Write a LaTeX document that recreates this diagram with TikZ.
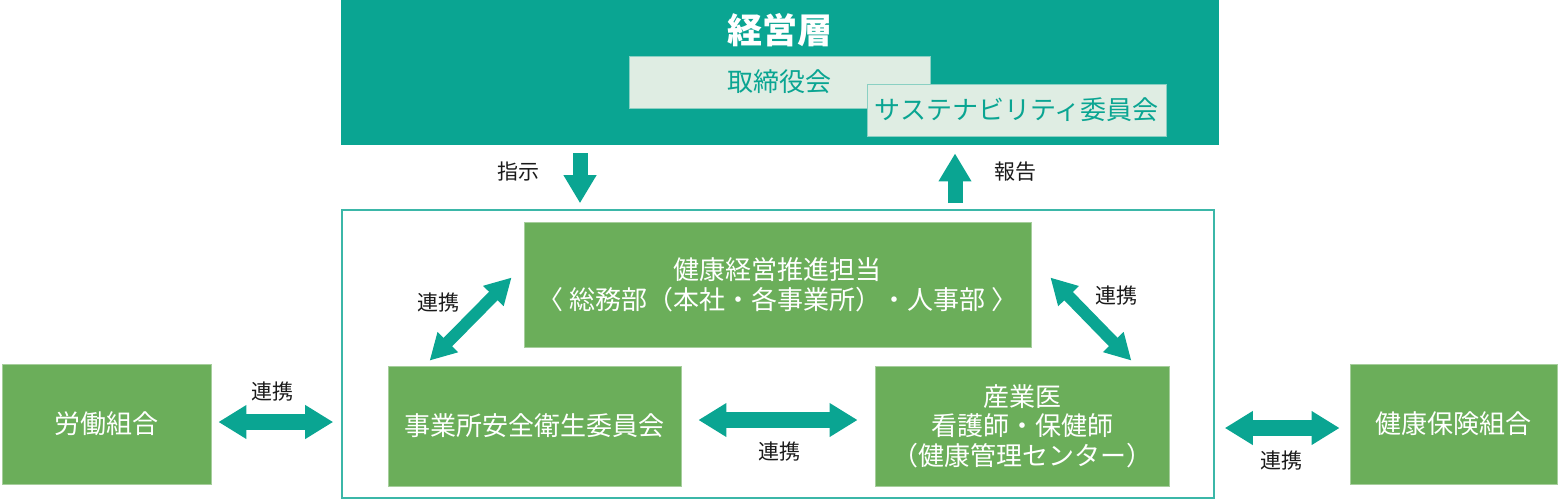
\documentclass[tikz,border=0pt]{standalone}
\usepackage{fontspec}
\setmainfont{Noto Sans CJK JP}
\usepackage{xcolor}
\usepackage{tikz}
\usetikzlibrary{arrows.meta}
\definecolor{hpTeal}{HTML}{0AA592}
\definecolor{hpGreen}{HTML}{6BAE5A}
\definecolor{hpPale}{HTML}{DFEDE3}
\definecolor{ink}{HTML}{1A1A1A}

\begin{document}
\begin{tikzpicture}[x=0.5pt,y=-0.5pt,
  box/.style={fill=hpGreen,draw=hpGreen!60!white,text=white,align=center,minimum height=60pt,font=\fontsize{13}{14.8}\selectfont},
  pale/.style={fill=hpPale,draw=hpPale!60!hpTeal,text=hpTeal,minimum height=26pt,font=\fontsize{13}{15}\selectfont},
  tag/.style={text=ink,font=\fontsize{10.5}{12}\selectfont},
  fat/.style={hpTeal,line width=8pt,{Triangle[width=16pt,length=14pt]}-{Triangle[width=16pt,length=14pt]}},
  slant/.style={hpTeal,line width=6pt,{Triangle[width=13.5pt,length=13pt]}-{Triangle[width=13.5pt,length=13pt]}},
  vert/.style={hpTeal,line width=7.5pt,-{Triangle[width=15.5pt,length=14pt]}}]
\useasboundingbox (0,0) rectangle (1560,500);
% top : management
\node[fill=hpTeal,minimum width=439pt,minimum height=72.5pt,inner sep=0pt] (top) at (780,72.5) {};
\node[text=white,font=\fontsize{17.5}{20}\selectfont\bfseries] (title) at (780,30) {経営層};
\node[pale,minimum width=150.5pt] (board) at (779.5,82) {\raisebox{1pt}{取締役会}};
\node[pale,minimum width=149.5pt] (susta) at (1016.5,110) {サステナビリティ委員会};
% frame : promotion system
\node[draw=hpTeal!80!white,line width=0.8pt,minimum width=436pt,minimum height=144pt] (frame) at (778,354) {};
\node[box,minimum width=253.5pt,minimum height=62.5pt] (promo) at (777.5,284.5) {健康経営推進担当\\〈 総務部（本社・各事業所）・人事部 〉};
\node[box,minimum width=146.5pt] (safety) at (534.5,426) {事業所安全衛生委員会};
\node[box,minimum width=147pt] (doctor) at (1022,426) {産業医\\看護師・保健師\\（健康管理センター）};
% outside partners
\node[box,minimum width=104.5pt] (union) at (106.5,424) {労働組合};
\node[box,minimum width=103.5pt] (kenpo) at (1453.5,424) {健康保険組合};
% instruction / report
\draw[vert,shorten <=4pt,shorten >=3pt] ([xshift=-100pt]top.south) -- ([xshift=-99pt]frame.north);
\draw[vert,shorten <=3pt,shorten >=4pt] ([xshift=88.5pt]frame.north) -- ([xshift=87.5pt]top.south);
\node[tag] (order) at (518,172) {指示};
\node[tag] (report) at (1015,172) {報告};
% cooperation
\draw[fat,shorten <=3.5pt,shorten >=4pt] ([yshift=1pt]union.east) -- ([yshift=1pt]union.east -| frame.west);
\draw[fat,shorten <=8.5pt,shorten >=8.5pt] ([yshift=3pt]safety.east) -- ([yshift=3pt]doctor.west);
\draw[fat,shorten <=5pt,shorten >=5pt] ([yshift=-2pt]kenpo.west -| frame.east) -- ([yshift=-2pt]kenpo.west);
\draw[slant] ([xshift=21pt,yshift=2.5pt]safety.north west) -- ([xshift=-6pt,yshift=3.5pt]promo.west);
\draw[slant] ([xshift=9.5pt,yshift=3.5pt]promo.east) -- ([xshift=-19pt,yshift=2.5pt]doctor.north east);
\node[tag] (linkU) at (272,392) {連携};
\node[tag] (linkL) at (438,303) {連携};
\node[tag] (linkR) at (1116,296) {連携};
\node[tag] (linkM) at (779,452) {連携};
\node[tag] (linkK) at (1281,461) {連携};
\end{tikzpicture}
\end{document}
